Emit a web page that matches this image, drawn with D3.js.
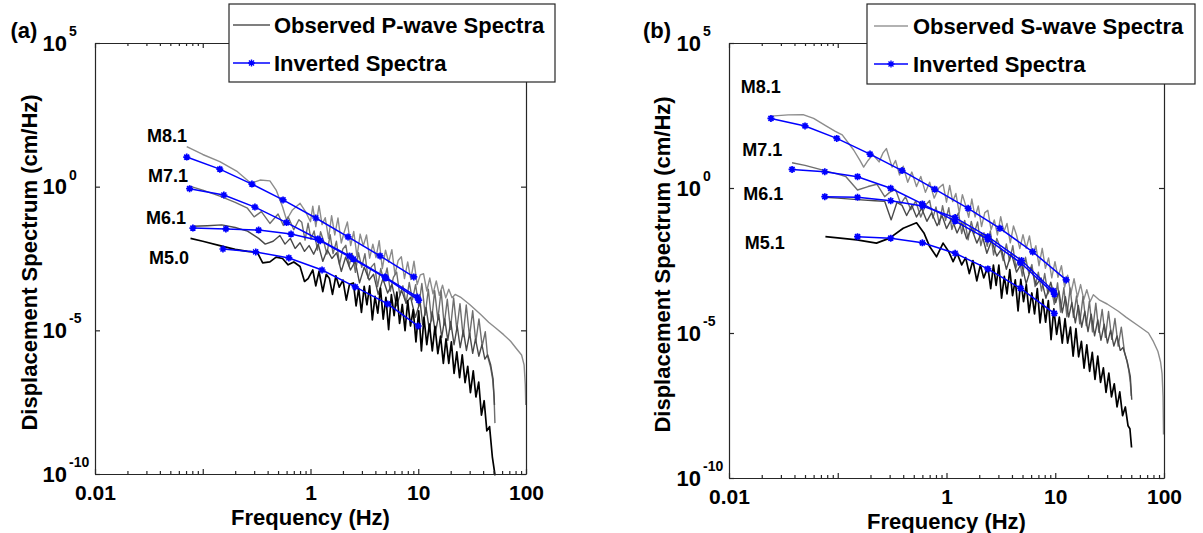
<!DOCTYPE html>
<html>
<head>
<meta charset="utf-8">
<script src="https://cdn.jsdelivr.net/npm/d3@7"></script>
<style>
  body { margin: 0; background: #fff; }
  svg { display: block; }
  text { font-family: 'Liberation Sans', Arial, sans-serif; font-weight: bold; fill: #000; }
</style>
</head>
<body>
<svg width="1203" height="533"></svg>
<script>
// values are [frequency (Hz), log10 of displacement spectrum]

// ---------- panel (a): P-wave ----------
var obsA81 = [[0.071,1.39],[0.1,1.12],[0.144,0.87],[0.21,0.52],[0.28,0.12],[0.34,0.23],[0.42,0.20],[0.48,-0.12],[0.55,-0.70],[0.60,-1.16],[0.68,-0.81],[0.80,-0.58],[0.90,-0.87],[1.0,-1.22],
  [1.05,-0.68],[1.12,-1.39],[1.2,-0.66],[1.28,-1.32],[1.37,-1.08],[1.47,-1.80],[1.57,-1.01],[1.68,-1.68],[1.8,-1.09],[1.93,-1.96],[2.06,-1.57],[2.2,-1.23],[2.36,-2.05],[2.52,-1.56],[2.7,-2.43],[2.89,-1.65],[3.09,-2.06],[3.31,-1.68],[3.54,-2.49],[3.79,-2.00],[4.05,-2.47],[4.34,-1.88],[4.64,-2.85],[4.97,-2.21],[5.31,-2.63],[5.69,-2.19],[6.08,-3.06],[6.51,-2.57],[6.97,-2.44],[7.45,-3.20],[7.98,-2.62],[8.53,-3.23],[9.13,-2.59],[9.77,-3.41],[10.45,-3.07],
  [11.2,-3.03],[12,-3.63],[12.8,-3.18],[13.7,-3.73],[14.7,-3.28],[15.7,-3.78],[16.8,-3.43],[18,-3.87],[19.2,-3.57],[20.6,-3.87],[22,-3.75],[24.6,-3.84],[30,-4.10],[38,-4.45],[45,-4.72],[52,-4.91],[62,-5.15],[72,-5.38],[82,-5.65],[91,-5.86],[96,-6.20],[98.5,-6.90],[99.5,-7.60]];
var obsA71 = [[0.0755,0.02],[0.1,-0.12],[0.144,-0.33],[0.2,-0.55],[0.26,-0.75],[0.30,-1.05],[0.35,-0.87],[0.42,-1.28],[0.50,-0.95],[0.56,-1.35],[0.62,-1.05],[0.70,-1.50],[0.78,-1.15],
  [0.83,-1.24],[0.89,-1.86],[0.95,-1.27],[1.01,-1.83],[1.08,-1.54],[1.16,-2.21],[1.24,-1.57],[1.32,-1.88],[1.42,-2.35],[1.52,-1.67],[1.62,-2.33],[1.74,-1.90],[1.86,-2.71],[1.99,-2.18],[2.13,-2.04],[2.28,-2.76],[2.44,-2.32],[2.61,-2.98],[2.79,-2.30],[2.99,-2.81],[3.2,-2.33],[3.42,-3.19],[3.66,-2.80],[3.92,-2.67],[4.19,-3.48],[4.49,-2.85],[4.8,-3.31],[5.14,-2.83],[5.5,-3.64],[5.88,-3.16],[6.3,-2.97],[6.74,-3.78],[7.21,-3.45],[7.71,-4.06],[8.25,-3.33],[8.83,-3.94],[9.45,-3.41],[10.1,-4.17],
  [10.8,-3.37],[11.6,-4.47],[12.4,-3.57],[13.3,-4.67],[14.2,-3.62],[15.2,-4.62],[16.3,-3.62],[17.4,-4.82],[18.6,-3.92],[19.9,-4.97],[21.3,-3.87],[22.8,-4.97],[24.4,-4.07],[26.1,-5.22],[27.9,-4.12],[29.9,-5.22],[32,-4.32],[34.2,-5.40],[36.6,-4.60],[39.2,-5.55],[41.9,-5.05],[44,-5.90],[47,-6.30],[49,-6.70],[50.5,-7.30],[51.5,-8.23]];
var obsA61 = [[0.081,-1.38],[0.11,-1.36],[0.15,-1.33],[0.2,-1.42],[0.26,-1.55],[0.33,-1.80],[0.38,-2.00],[0.45,-1.90],[0.52,-1.70],[0.58,-2.00],[0.65,-1.80],[0.72,-2.15],[0.80,-1.95],[0.88,-2.25],[0.97,-2.05],[1.07,-2.35],[1.18,-2.00],[1.3,-2.60],[1.43,-2.20],[1.58,-2.50],[1.75,-2.30],[1.93,-2.95],[2.12,-2.45],[2.35,-2.90],[2.6,-2.60],[2.85,-3.35],[3.15,-2.80],[3.5,-3.25],[3.85,-3.05],[4.25,-3.75],[4.7,-3.20],[5.2,-3.70],[5.7,-3.40],[6.3,-4.15],[7.0,-3.60],[7.7,-4.05],[8.5,-3.85],[9.4,-4.55],[10.4,-4.00],[11.0,-4.80],[11.8,-4.20],[12.7,-5.00],[13.5,-4.35],[14.4,-5.10],[15.5,-4.45],[16.5,-5.25],[17.6,-4.60],[18.8,-5.35],[20,-4.70],[21.5,-5.50],[23,-4.85],[24.5,-5.60],[26.2,-5.00],[28,-5.70],[30,-5.10],[32,-5.80],[34,-5.30],[36.5,-5.90],[39,-5.50],[41.5,-6.00],[44,-5.85],[47,-6.20],[49.5,-6.70],[51,-7.60]];
var obsA50 = [[0.077,-1.80],[0.1,-1.90],[0.144,-2.05],[0.2,-2.18],[0.26,-2.25],[0.32,-2.28],[0.36,-2.65],[0.42,-2.62],[0.48,-2.45],[0.55,-2.50],[0.62,-2.72],[0.70,-2.62],[0.80,-2.78],[0.88,-3.30],[0.95,-3.20],[1.05,-2.90],[1.12,-3.45],[1.2,-2.95],[1.3,-3.65],[1.4,-3.05],[1.5,-3.20],[1.6,-3.75],[1.72,-3.10],[1.85,-3.50],[2.0,-3.25],[2.15,-3.95],[2.3,-3.40],
  [2.5,-3.35],[2.65,-4.15],[2.8,-3.54],[2.97,-4.38],[3.15,-3.47],[3.34,-4.11],[3.54,-3.45],[3.75,-4.64],[3.97,-3.82],[4.21,-4.40],[4.46,-3.53],[4.73,-4.61],[5.01,-3.85],[5.31,-4.98],[5.63,-3.76],[5.97,-4.49],[6.33,-3.67],[6.71,-4.76],[7.11,-4.10],[7.54,-5.01],[7.99,-3.97],[8.47,-4.85],[8.98,-4.28],[9.52,-5.40],[10.1,-4.32],
  [10.7,-5.72],[11.3,-4.55],[12,-5.50],[12.7,-4.78],[13.5,-5.72],[14.3,-4.86],[15.2,-5.81],[16.1,-5.20],[17.1,-6.15],[18.1,-5.30],[19.2,-6.15],[20.3,-5.40],[21.5,-6.50],[22.8,-5.75],[24.2,-6.65],[25.6,-5.85],[27.2,-6.82],[28.8,-6.25],[30.5,-7.17],[32.4,-6.41],[34.3,-7.32],[36.4,-6.80],[38.6,-7.95],[40.9,-7.45],[43.3,-8.50],[45.9,-8.35],[48.7,-9.40],[51.6,-10.05]];

var invA81 = [[0.071,1.03],[0.144,0.61],[0.286,0.09],[0.556,-0.46],[1.12,-1.09],[2.23,-1.75],[4.42,-2.41],[9.1,-3.14]];
var invA71 = [[0.0755,-0.07],[0.157,-0.29],[0.305,-0.71],[0.60,-1.25],[1.17,-1.82],[2.3,-2.41],[4.9,-3.14],[9.8,-3.84]];
var invA61 = [[0.081,-1.44],[0.164,-1.47],[0.33,-1.51],[0.66,-1.65],[1.23,-1.88],[2.5,-2.52],[5.0,-3.18],[10.1,-3.95]];
var invA50 = [[0.154,-2.17],[0.31,-2.27],[0.63,-2.48],[1.28,-2.90],[2.6,-3.49],[5.2,-4.08],[10,-4.85]];

var magA = [["M8.1",0.0466,1.75],["M7.1",0.0476,0.38],["M6.1",0.0456,-1.10],["M5.0",0.0486,-2.47]];

// ---------- panel (b): S-wave ----------
var obsB81 = [[0.0243,2.48],[0.035,2.52],[0.048,2.53],[0.06,2.40],[0.078,2.14],[0.095,1.95],[0.11,1.83],[0.14,1.31],[0.16,0.95],[0.173,0.72],[0.19,0.95],[0.21,1.15],[0.24,0.90],[0.26,1.20],[0.28,1.36],[0.316,0.72],[0.34,0.95],[0.37,0.45],[0.40,0.75],[0.44,0.20],[0.48,0.55],[0.53,0.05],[0.58,0.40],[0.64,-0.15],[0.70,0.20],[0.77,-0.35],[0.85,0.00],
  [0.93,0.13],[1.0,-0.49],[1.07,0.09],[1.14,-0.47],[1.22,-0.19],[1.31,-0.86],[1.4,-0.23],[1.5,-0.60],[1.6,-1.01],[1.71,-0.38],[1.83,-1.00],[1.96,-0.62],[2.1,-1.33],[2.25,-0.85],[2.4,-0.77],[2.57,-1.44],[2.75,-1.10],[2.94,-1.62],[3.15,-0.99],[3.37,-1.51],[3.6,-1.22],[3.86,-1.89],[4.13,-1.31],[4.41,-1.63],[4.72,-2.09],[5.05,-1.61],[5.41,-2.08],[5.79,-1.65],[6.19,-2.31],[6.63,-1.99],[7.09,-2.68],[7.59,-2.08],[8.12,-2.77],[8.68,-2.41],[9.29,-3.10],[9.94,-2.54],[10.6,-3.08],[11.4,-2.68],[12.2,-3.42],[13,-3.01],[13.9,-3.65],[14.9,-3.13],[16,-3.76],[17.1,-3.33],[18.3,-3.85],[19.5,-3.51],[20.9,-3.92],[22.4,-3.68],
  [25.6,-3.87],[30,-4.00],[38,-4.25],[45,-4.46],[58,-4.75],[72,-5.00],[80,-5.30],[88,-5.64],[93,-6.00],[96,-6.40],[98,-7.20],[99,-8.50]];
var obsB71 = [[0.038,0.87],[0.05,0.78],[0.076,0.60],[0.1,0.48],[0.119,0.39],[0.152,-0.07],[0.19,0.05],[0.229,0.13],[0.27,-0.30],[0.30,-0.15],[0.34,-0.05],[0.38,-0.55],[0.42,-0.30],[0.47,-0.75],[0.52,-0.45],[0.58,-1.00],[0.64,-0.60],
  [0.70,-0.43],[0.75,-1.04],[0.80,-0.65],[0.86,-1.26],[0.92,-0.61],[0.98,-1.12],[1.05,-0.68],[1.12,-1.43],[1.2,-1.04],[1.29,-0.86],[1.38,-1.57],[1.47,-1.12],[1.58,-1.79],[1.69,-1.15],[1.8,-1.56],[1.93,-1.17],[2.07,-1.99],[2.21,-1.54],[2.37,-2.01],[2.53,-1.48],[2.71,-2.31],[2.9,-1.74],[3.1,-2.02],[3.32,-2.50],[3.55,-1.93],[3.8,-2.51],[4.07,-1.99],[4.35,-2.76],[4.66,-2.39],[4.98,-3.04],[5.33,-2.39],[5.71,-2.94],[6.1,-2.64],[6.53,-3.40],[6.99,-2.90],[7.48,-3.55],[8.0,-2.95],[8.56,-3.65],[9.16,-3.41],[9.8,-4.01],
  [10.5,-3.27],[11.2,-4.28],[12,-3.44],[12.8,-4.44],[13.7,-3.45],[14.7,-4.46],[15.7,-3.72],[16.8,-4.68],[18,-3.74],[19.3,-4.75],[20.6,-3.90],[22,-4.96],[23.6,-3.97],[25.2,-4.98],[27,-4.19],[28.9,-5.15],[30.9,-4.26],[33.1,-5.22],[35.4,-4.50],[37.9,-5.45],[40.5,-4.80],[43.3,-5.65],[45.5,-5.95],[47.5,-6.30],[49,-6.70],[50,-7.17]];
var obsB61 = [[0.076,-0.32],[0.1,-0.35],[0.152,-0.40],[0.22,-0.44],[0.27,-0.46],[0.31,-1.10],[0.35,-0.50],[0.39,-0.60],[0.43,-0.95],[0.48,-0.60],[0.53,-1.00],[0.59,-0.70],[0.66,-1.15],[0.73,-0.85],[0.82,-1.30],[0.91,-0.95],[1.0,-1.40],[1.12,-1.05],[1.25,-1.55],[1.38,-1.20],[1.53,-1.75],[1.7,-1.40],[1.9,-1.90],[2.1,-1.55],[2.35,-2.25],[2.6,-1.80],[2.9,-2.35],[3.2,-2.10],[3.55,-2.80],[3.95,-2.25],[4.4,-2.90],[4.9,-2.60],[5.4,-3.30],[6.0,-2.75],[6.7,-3.35],[7.4,-3.10],[8.2,-3.80],[9.1,-3.25],[10.1,-3.95],[10.8,-3.55],[11.6,-4.30],[12.4,-3.75],[13.3,-4.45],[14.2,-3.95],[15.3,-4.65],[16.3,-4.05],[17.5,-4.80],[18.7,-4.25],[20,-4.95],[21.4,-4.35],[23,-5.10],[24.6,-4.55],[26.3,-5.25],[28.2,-4.70],[30.2,-5.35],[32.3,-4.90],[34.6,-5.45],[37,-5.10],[39.6,-5.60],[42,-5.50],[46,-6.00],[49,-6.50],[50.5,-7.30]];
var obsB51 = [[0.077,-1.68],[0.1,-1.72],[0.15,-1.79],[0.227,-1.90],[0.30,-1.73],[0.40,-1.39],[0.53,-1.20],[0.62,-1.55],[0.70,-2.02],[0.81,-2.37],[0.93,-1.90],[1.05,-2.20],[1.15,-2.54],[1.25,-2.25],[1.38,-2.65],[1.5,-2.40],[1.62,-2.95],[1.75,-2.50],[1.9,-3.20],[2.05,-2.65],[2.2,-3.10],
  [2.4,-2.72],[2.55,-3.47],[2.7,-2.66],[2.86,-3.36],[3.03,-2.66],[3.21,-3.80],[3.4,-3.05],[3.6,-3.65],[3.82,-2.81],[4.05,-3.71],[4.29,-3.17],[4.55,-4.24],[4.82,-3.15],[5.11,-3.92],[5.42,-3.33],[5.74,-4.30],[6.09,-3.62],[6.45,-4.34],[6.84,-3.47],[7.25,-4.65],[7.69,-3.84],[8.15,-4.63],[8.64,-3.88],[9.15,-5.23],[9.7,-4.17],
  [10.3,-5.05],[10.9,-4.45],[11.6,-5.35],[12.3,-4.50],[13,-5.35],[13.8,-4.80],[14.6,-5.80],[15.5,-4.85],[16.4,-5.82],[17.4,-5.29],[18.4,-6.21],[19.5,-5.41],[20.7,-6.32],[21.9,-5.67],[23.2,-6.60],[24.6,-5.80],[26.1,-6.70],[27.7,-6.20],[29.3,-7.05],[31.1,-6.38],[32.9,-7.20],[34.9,-6.75],[37,-7.55],[39.2,-7.03],[41.6,-7.85],[44.1,-7.55],[46.7,-8.20],[48.6,-8.30],[50.3,-8.95]];

var invB81 = [[0.0243,2.40],[0.05,2.14],[0.098,1.71],[0.198,1.17],[0.39,0.60],[0.78,-0.04],[1.58,-0.70],[3.1,-1.39],[6.2,-2.20],[12.6,-3.17]];
var invB71 = [[0.038,0.64],[0.076,0.56],[0.152,0.39],[0.307,-0.01],[0.60,-0.55],[1.2,-1.14],[2.4,-1.77],[4.8,-2.58],[9.8,-3.66]];
var invB61 = [[0.076,-0.30],[0.152,-0.32],[0.307,-0.44],[0.60,-0.62],[1.2,-1.02],[2.4,-1.68],[4.9,-2.50],[9.6,-3.55]];
var invB51 = [[0.152,-1.68],[0.307,-1.73],[0.60,-1.89],[1.2,-2.25],[2.4,-2.79],[4.8,-3.46],[9.8,-4.32]];

var magB = [["M8.1",0.0196,3.48],["M7.1",0.0202,1.31],["M6.1",0.0207,-0.21],["M5.1",0.0213,-1.90]];

// ---------- axes ----------
var xMajor = [0.01, 0.1, 1, 10, 100];
var xTickLabels = ["0.01", "", "1", "10", "100"];
var xMinor = [];
[0.01, 0.1, 1, 10].forEach(function (dec) {
  for (var k = 2; k <= 9; k++) xMinor.push(dec * k);
});
var yMajor = [1e5, 1e0, 1e-5, 1e-10];
var yExp = ["5", "0", "-5", "-10"];

var obsColors = ["#8c8c8c", "#6e6e6e", "#4a4a4a", "#000000"];
var obsWidths = [1.4, 1.4, 1.4, 1.7];
var blue = "#0000ff";
var starPath = "M-3.5,0H3.5M0,-3.5V3.5M-2.5,-2.5L2.5,2.5M-2.5,2.5L2.5,-2.5";

var svg = d3.select("svg");

var panels = [
  {
    tag: "(a)", tagX: 24,
    left: 95, top: 43, right: 526, bottom: 474,
    obs: [obsA81, obsA71, obsA61, obsA50],
    inv: [invA81, invA71, invA61, invA50],
    mags: magA,
    legendText: "Observed P-wave Spectra", legendColor: "#000",
    legend: { x: 229, y: 4, w: 326, h: 78, l1: 233, l2: 270, tx: 274, r1: 25, r2: 63 },
    ylabX: 29, xlabDy: 43
  },
  {
    tag: "(b)", tagX: 657,
    left: 729, top: 43, right: 1164, bottom: 478,
    obs: [obsB81, obsB71, obsB61, obsB51],
    inv: [invB81, invB71, invB61, invB51],
    mags: magB,
    legendText: "Observed S-wave Spectra", legendColor: "#666",
    legend: { x: 867, y: 4, w: 328, h: 80, l1: 874, l2: 908, tx: 913, r1: 26, r2: 64 },
    ylabX: 662, xlabDy: 43
  }
];

panels.forEach(drawPanel);

function drawPanel(p) {
  var x = d3.scaleLog().domain([0.01, 100]).range([p.left, p.right]);
  var y = d3.scaleLog().domain([1e-10, 1e5]).range([p.bottom, p.top]);
  var line = d3.line()
    .x(function (d) { return x(d[0]); })
    .y(function (d) { return y(Math.pow(10, d[1])); });

  var g = svg.append("g");

  // observed spectra
  g.selectAll("path.obs")
    .data(p.obs)
    .enter()
    .append("path")
    .attr("class", "obs")
    .attr("d", line)
    .attr("fill", "none")
    .attr("stroke", function (d, i) { return obsColors[i]; })
    .attr("stroke-width", function (d, i) { return obsWidths[i]; })
    .attr("stroke-linejoin", "round");

  // inverted spectra
  g.selectAll("path.inv")
    .data(p.inv)
    .enter()
    .append("path")
    .attr("class", "inv")
    .attr("d", line)
    .attr("fill", "none")
    .attr("stroke", blue)
    .attr("stroke-width", 1.5);

  p.inv.forEach(function (s) {
    g.selectAll(null)
      .data(s)
      .enter()
      .append("path")
      .attr("d", starPath)
      .attr("transform", function (d) {
        return "translate(" + x(d[0]) + "," + y(Math.pow(10, d[1])) + ")";
      })
      .attr("stroke", blue)
      .attr("stroke-width", 1.7);
  });

  // magnitude labels
  g.selectAll("text.mag")
    .data(p.mags)
    .enter()
    .append("text")
    .attr("class", "mag")
    .attr("x", function (d) { return x(d[1]); })
    .attr("y", function (d) { return y(Math.pow(10, d[2])); })
    .attr("text-anchor", "middle")
    .attr("dominant-baseline", "central")
    .style("font-size", "18px")
    .text(function (d) { return d[0]; });

  // axes, MATLAB style: box with inward ticks
  var axisColor = "#262626";
  var bottomAx = g.append("g")
    .attr("transform", "translate(0," + p.bottom + ")")
    .call(d3.axisBottom(x).tickValues(xMajor).tickSizeInner(-5).tickSizeOuter(0)
      .tickFormat(function (d, i) { return xTickLabels[i]; }));
  bottomAx.selectAll("text")
    .attr("y", 19).attr("dy", "0.35em")
    .style("font-size", "21px");
  g.append("g")
    .attr("transform", "translate(0," + p.bottom + ")")
    .call(d3.axisBottom(x).tickValues(xMinor).tickSize(-3).tickFormat(""))
    .select(".domain").remove();

  g.append("g")
    .attr("transform", "translate(0," + p.top + ")")
    .call(d3.axisTop(x).tickValues(xMajor).tickSizeInner(-5).tickSizeOuter(0).tickFormat(""));
  g.append("g")
    .attr("transform", "translate(0," + p.top + ")")
    .call(d3.axisTop(x).tickValues(xMinor).tickSize(-3).tickFormat(""))
    .select(".domain").remove();

  g.append("g")
    .attr("transform", "translate(" + p.left + ",0)")
    .call(d3.axisLeft(y).tickValues(yMajor).tickSizeInner(-5).tickSizeOuter(0).tickFormat(""));
  g.append("g")
    .attr("transform", "translate(" + p.right + ",0)")
    .call(d3.axisRight(y).tickValues(yMajor).tickSizeInner(-5).tickSizeOuter(0).tickFormat(""));

  g.selectAll(".domain, .tick line").attr("stroke", axisColor).attr("stroke-width", 1.2);

  // y tick labels: 10 with exponent
  var ylab = g.selectAll("g.ylab")
    .data(yMajor)
    .enter()
    .append("g")
    .attr("class", "ylab")
    .attr("transform", function (d) { return "translate(" + p.left + "," + y(d) + ")"; });
  ylab.append("text")
    .attr("x", -28)
    .attr("text-anchor", "end")
    .attr("dominant-baseline", "central")
    .style("font-size", "22px")
    .text("10");
  ylab.append("text")
    .attr("x", -26)
    .attr("y", -12)
    .attr("dominant-baseline", "central")
    .style("font-size", "14px")
    .text(function (d, i) { return yExp[i]; });

  // axis titles
  g.append("text")
    .attr("x", (p.left + p.right) / 2)
    .attr("y", p.bottom + p.xlabDy)
    .attr("text-anchor", "middle")
    .attr("dominant-baseline", "central")
    .style("font-size", "22px")
    .text("Frequency (Hz)");
  g.append("text")
    .attr("transform", "translate(" + p.ylabX + "," + ((p.top + p.bottom) / 2 + 4) + ") rotate(-90)")
    .attr("text-anchor", "middle")
    .attr("dominant-baseline", "central")
    .style("font-size", "22px")
    .text("Displacement Spectrum (cm/Hz)");

  // panel tag
  g.append("text")
    .attr("x", p.tagX)
    .attr("y", 30)
    .attr("text-anchor", "middle")
    .attr("dominant-baseline", "central")
    .style("font-size", "22px")
    .text(p.tag);

  // legend
  var L = p.legend;
  var lg = g.append("g");
  lg.append("rect")
    .attr("x", L.x).attr("y", L.y).attr("width", L.w).attr("height", L.h)
    .attr("fill", "#fff").attr("stroke", "#262626").attr("stroke-width", 1.2);
  lg.append("line")
    .attr("x1", L.l1).attr("x2", L.l2).attr("y1", L.r1).attr("y2", L.r1)
    .attr("stroke", p.legendColor).attr("stroke-width", 1.2);
  lg.append("line")
    .attr("x1", L.l1).attr("x2", L.l2).attr("y1", L.r2).attr("y2", L.r2)
    .attr("stroke", blue).attr("stroke-width", 1.5);
  lg.append("path")
    .attr("d", starPath)
    .attr("transform", "translate(" + (L.l1 + L.l2) / 2 + "," + L.r2 + ")")
    .attr("stroke", blue).attr("stroke-width", 1.4);
  lg.append("text")
    .attr("x", L.tx).attr("y", L.r1)
    .attr("dominant-baseline", "central")
    .style("font-size", "22px")
    .text(p.legendText);
  lg.append("text")
    .attr("x", L.tx).attr("y", L.r2)
    .attr("dominant-baseline", "central")
    .style("font-size", "22px")
    .text("Inverted Spectra");
}
</script>
</body>
</html>
